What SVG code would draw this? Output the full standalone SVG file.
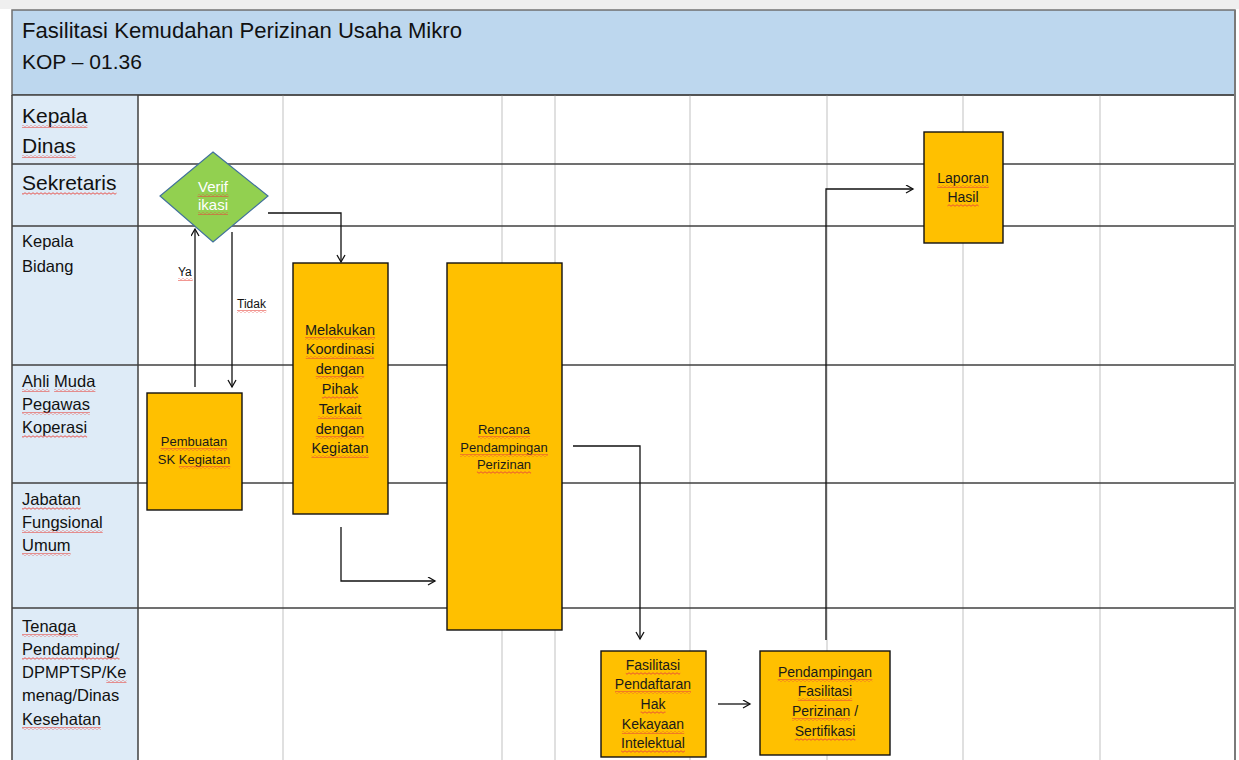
<svg xmlns="http://www.w3.org/2000/svg" width="1239" height="760" viewBox="0 0 1239 760">
<style>
  .t{font-family:"Liberation Sans",Arial,sans-serif;fill:#111}
  .big{font-size:21px}
  .sm{font-size:16.5px}
  .bt{font-family:"Liberation Sans",Arial,sans-serif;text-anchor:middle;fill:#1a1a1a}
  .w{fill:url(#wv)}
  .ln{stroke:#404040;stroke-width:1.5}
  .grid{stroke:#D6D6D6;stroke-width:1.5}
  .bx{fill:#FFC000;stroke:#111;stroke-width:1.4}
  .con{fill:none;stroke:#111;stroke-width:1.3}
</style>
<defs>
  <marker id="arr" markerWidth="10" markerHeight="10" refX="8" refY="4.5" orient="auto" markerUnits="userSpaceOnUse">
    <path d="M1,0.5 L8,4.5 L1,8.5" fill="none" stroke="#111" stroke-width="1.3"/>
  </marker>
  <pattern id="wv" width="4" height="3" patternUnits="userSpaceOnUse">
    <path d="M0,1.5 Q1,0 2,1.5 T4,1.5" fill="none" stroke="#E8453C" stroke-width="0.9"/>
  </pattern>
</defs>
<rect x="0" y="0" width="1239" height="760" fill="#FFFFFF"/>
<rect x="0" y="0" width="1239" height="9" fill="#EFEFEF"/>

<g id="header">
  <rect x="12" y="10" width="1223" height="85" fill="#BDD7EE" stroke="#6F6F6F" stroke-width="1.5"/>
  <text class="t" x="22" y="38" font-size="22" textLength="440" lengthAdjust="spacingAndGlyphs">Fasilitasi Kemudahan Perizinan Usaha Mikro</text>
  <text class="t" x="22" y="69" font-size="21">KOP – 01.36</text>
</g>

<g id="lanes">
  <rect x="12" y="95" width="126" height="665" fill="#DEEBF7"/>
  <g class="grid">
    <line x1="283" y1="95" x2="283" y2="760"/>
    <line x1="502" y1="95" x2="502" y2="760"/>
    <line x1="555" y1="95" x2="555" y2="760"/>
    <line x1="690" y1="95" x2="690" y2="760"/>
    <line x1="827" y1="95" x2="827" y2="760"/>
    <line x1="963" y1="95" x2="963" y2="760"/>
    <line x1="1100" y1="95" x2="1100" y2="760"/>
  </g>
  <g class="ln">
    <line x1="12" y1="95" x2="1235" y2="95"/>
    <line x1="12" y1="164" x2="1235" y2="164"/>
    <line x1="12" y1="226" x2="1235" y2="226"/>
    <line x1="12" y1="365" x2="1235" y2="365"/>
    <line x1="12" y1="483" x2="1235" y2="483"/>
    <line x1="12" y1="608" x2="1235" y2="608"/>
    <line x1="138" y1="95" x2="138" y2="760"/>
    <line x1="12" y1="95" x2="12" y2="760"/>
  </g>
  <line x1="1235" y1="10" x2="1235" y2="760" stroke="#7A7A7A" stroke-width="2"/>
  <g id="lane-kepala-dinas">
    <text class="t big" x="22" y="123">Kepala</text>
    <text class="t big" x="22" y="153">Dinas</text>
    <rect class="w" x="22" y="125" width="65.4" height="3"/>
    <rect class="w" x="22" y="155" width="53.7" height="3"/>
  </g>
  <g id="lane-sekretaris">
    <text class="t big" x="22" y="190">Sekretaris</text>
    <rect class="w" x="22" y="192" width="94.5" height="3"/>
  </g>
  <g id="lane-kepala-bidang">
    <text class="t sm" x="22" y="247">Kepala</text>
    <text class="t sm" x="22" y="272">Bidang</text>
  </g>
  <g id="lane-ahli-muda">
    <text class="t sm" x="22" y="387">Ahli Muda</text>
    <text class="t sm" x="22" y="410">Pegawas</text>
    <text class="t sm" x="22" y="433">Koperasi</text>
    <rect class="w" x="22" y="389" width="27.5" height="3"/>
    <rect class="w" x="54.1" y="389" width="41.3" height="3"/>
    <rect class="w" x="22" y="412" width="67.9" height="3"/>
    <rect class="w" x="22" y="435" width="65.1" height="3"/>
  </g>
  <g id="lane-jabatan">
    <text class="t sm" x="22" y="505">Jabatan</text>
    <text class="t sm" x="22" y="528">Fungsional</text>
    <text class="t sm" x="22" y="551">Umum</text>
    <rect class="w" x="22" y="507" width="58.7" height="3"/>
    <rect class="w" x="22" y="530" width="80.7" height="3"/>
    <rect class="w" x="22" y="553" width="48.6" height="3"/>
  </g>
  <g id="lane-tenaga">
    <text class="t sm" x="22" y="632">Tenaga</text>
    <text class="t sm" x="22" y="655">Pendamping/</text>
    <text class="t sm" x="22" y="678">DPMPTSP/Ke</text>
    <text class="t sm" x="22" y="701">menag/Dinas</text>
    <text class="t sm" x="22" y="725">Kesehatan</text>
    <rect class="w" x="22" y="634" width="56" height="3"/>
    <rect class="w" x="22" y="657" width="97.5" height="3"/>
    <rect class="w" x="106.3" y="680" width="20.2" height="3"/>
    <rect class="w" x="22" y="727" width="78.9" height="3"/>
  </g>
</g>

<g id="connectors">
  <path class="con" d="M195,387 L195,229" marker-end="url(#arr)"/>
  <path class="con" d="M232,232 L232,387" marker-end="url(#arr)"/>
  <path class="con" d="M268,213 H341 V262" marker-end="url(#arr)"/>
  <path class="con" d="M341,527 V581 H435" marker-end="url(#arr)"/>
  <path class="con" d="M573,446 H640 V639" marker-end="url(#arr)"/>
  <path class="con" d="M718,704 H750" marker-end="url(#arr)"/>
  <path class="con" d="M826,640 V189 H913" marker-end="url(#arr)"/>
  <text class="t" x="178" y="276" font-size="12">Ya</text>
  <text class="t" x="237" y="308" font-size="12">Tidak</text>
  <rect class="w" x="178" y="278" width="14.7" height="3"/>
  <rect class="w" x="237" y="310" width="29.3" height="3"/>
</g>

<g id="verifikasi">
  <polygon points="213,152 268,196 213,242 160,196" fill="#92D050" stroke="#41719C" stroke-width="1.2"/>
  <text class="bt" x="213" y="192" font-size="15" style="fill:#FFFFFF">Verif</text>
  <text class="bt" x="213" y="210" font-size="15" style="fill:#FFFFFF">ikasi</text>
  <rect class="w" x="197.6" y="194" width="30.8" height="3"/>
  <rect class="w" x="198" y="212" width="30" height="3"/>
</g>

<g id="pembuatan-sk">
  <rect class="bx" x="147" y="393" width="95" height="117"/>
  <text class="bt" x="194" y="446" font-size="13">Pembuatan</text>
  <text class="bt" x="194" y="464" font-size="13">SK Kegiatan</text>
  <rect class="w" x="160.7" y="448" width="66.5" height="3"/>
  <rect class="w" x="178.9" y="466" width="51.3" height="3"/>
</g>

<g id="melakukan-koordinasi">
  <rect class="bx" x="293" y="263" width="95" height="251"/>
  <text class="bt" x="340" y="335" font-size="14.5">Melakukan</text>
  <text class="bt" x="340" y="354" font-size="14.5">Koordinasi</text>
  <text class="bt" x="340" y="374" font-size="14.5">dengan</text>
  <text class="bt" x="340" y="394" font-size="14.5">Pihak</text>
  <text class="bt" x="340" y="414" font-size="14.5">Terkait</text>
  <text class="bt" x="340" y="434" font-size="14.5">dengan</text>
  <text class="bt" x="340" y="453" font-size="14.5">Kegiatan</text>
  <rect class="w" x="305" y="337" width="70.1" height="3"/>
  <rect class="w" x="305.8" y="356" width="68.5" height="3"/>
  <rect class="w" x="315.8" y="376" width="48.4" height="3"/>
  <rect class="w" x="321.9" y="396" width="36.3" height="3"/>
  <rect class="w" x="317.9" y="416" width="44.3" height="3"/>
  <rect class="w" x="315.8" y="436" width="48.4" height="3"/>
  <rect class="w" x="311.4" y="455" width="57.2" height="3"/>
</g>

<g id="rencana-pendampingan">
  <rect class="bx" x="447" y="263" width="115" height="367"/>
  <text class="bt" x="504" y="434" font-size="13">Rencana</text>
  <text class="bt" x="504" y="452" font-size="13">Pendampingan</text>
  <text class="bt" x="504" y="469" font-size="13">Perizinan</text>
  <rect class="w" x="478" y="436" width="52" height="3"/>
  <rect class="w" x="460" y="454" width="88" height="3"/>
  <rect class="w" x="476.9" y="471" width="54.2" height="3"/>
</g>

<g id="fasilitasi-hki">
  <rect class="bx" x="601" y="651" width="105" height="106"/>
  <text class="bt" x="653" y="670" font-size="14">Fasilitasi</text>
  <text class="bt" x="653" y="689" font-size="14">Pendaftaran</text>
  <text class="bt" x="653" y="709" font-size="14">Hak</text>
  <text class="bt" x="653" y="729" font-size="14">Kekayaan</text>
  <text class="bt" x="653" y="748" font-size="14">Intelektual</text>
  <rect class="w" x="625.8" y="672" width="54.4" height="3"/>
  <rect class="w" x="615" y="691" width="76" height="3"/>
  <rect class="w" x="640.6" y="711" width="24.9" height="3"/>
  <rect class="w" x="621.9" y="731" width="62.3" height="3"/>
  <rect class="w" x="621.1" y="750" width="63.8" height="3"/>
</g>

<g id="pendampingan-fasilitasi">
  <rect class="bx" x="760" y="651" width="130" height="104"/>
  <text class="bt" x="825" y="677" font-size="14">Pendampingan</text>
  <text class="bt" x="825" y="696" font-size="14">Fasilitasi</text>
  <text class="bt" x="825" y="716" font-size="14">Perizinan /</text>
  <text class="bt" x="825" y="736" font-size="14">Sertifikasi</text>
  <rect class="w" x="777.7" y="679" width="94.7" height="3"/>
  <rect class="w" x="797.8" y="698" width="54.4" height="3"/>
  <rect class="w" x="792" y="718" width="58.4" height="3"/>
  <rect class="w" x="794.7" y="738" width="60.7" height="3"/>
</g>

<g id="laporan-hasil">
  <rect class="bx" x="924" y="132" width="79" height="111"/>
  <text class="bt" x="963" y="183" font-size="14">Laporan</text>
  <text class="bt" x="963" y="202" font-size="14">Hasil</text>
  <rect class="w" x="937.3" y="185" width="51.4" height="3"/>
  <rect class="w" x="947.5" y="204" width="31.1" height="3"/>
</g>
</svg>
